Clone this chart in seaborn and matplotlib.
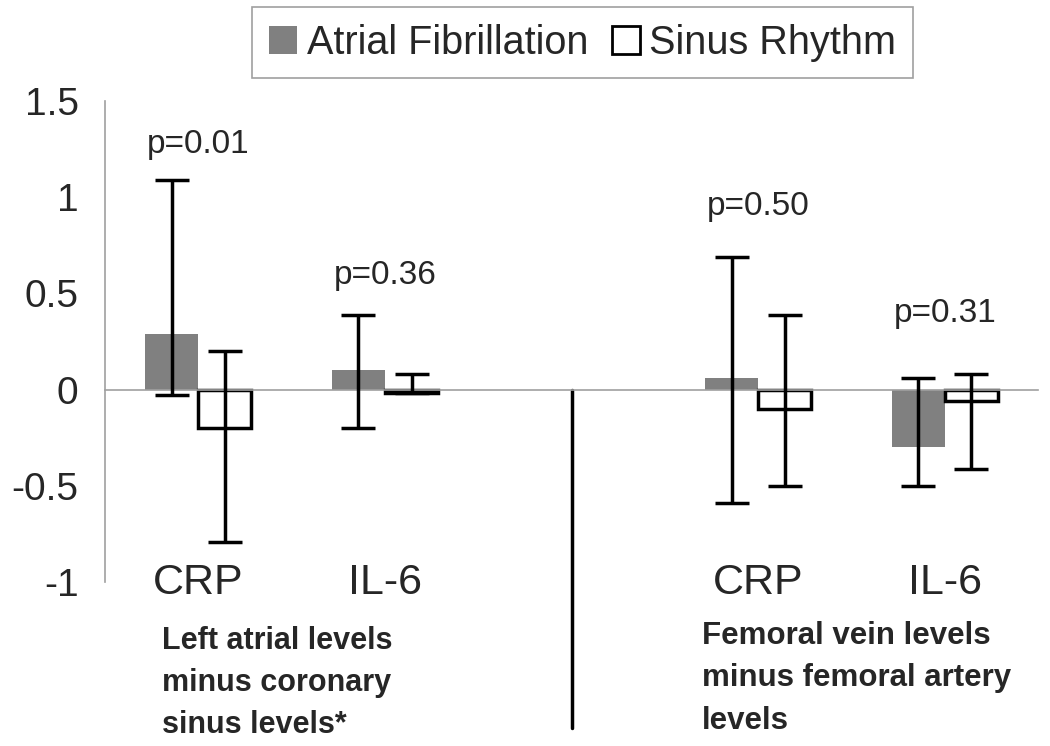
import matplotlib
matplotlib.use('Agg')
import matplotlib.pyplot as plt
from matplotlib.patches import Patch
import pandas as pd
import seaborn as sns

# data: medians with lower / upper bounds
categories = ["LA CRP", "LA IL-6", "gap", "FV CRP", "FV IL-6"]
cat_labels = ["CRP", "IL-6", "", "CRP", "IL-6"]
data_cats = ["LA CRP", "LA IL-6", "FV CRP", "FV IL-6"]
af_median = [0.29, 0.10, 0.06, -0.30]
af_low = [-0.03, -0.20, -0.59, -0.50]
af_high = [1.09, 0.39, 0.69, 0.06]
sr_median = [-0.20, -0.015, -0.10, -0.06]
sr_low = [-0.79, -0.02, -0.50, -0.41]
sr_high = [0.20, 0.08, 0.39, 0.08]
p_values = ["p=0.01", "p=0.36", "p=0.50", "p=0.31"]
p_label_y = [1.23, 0.55, 0.905, 0.352]   # baselines
series = ["Atrial Fibrillation", "Sinus Rhythm"]
left_note = ["Left atrial levels", "minus coronary", "sinus levels*"]
right_note = ["Femoral vein levels", "minus femoral artery", "levels"]

sns.set_style('white')
plt.rcParams['font.family'] = ['Liberation Sans', 'DejaVu Sans']

df = pd.DataFrame({
    'category': data_cats * 2,
    'rhythm': [series[0]] * 4 + [series[1]] * 4,
    'value': af_median + sr_median,
    'low': af_low + sr_low,
    'high': af_high + sr_high,
})

fig = plt.figure(figsize=(10.5, 7.46), dpi=100)
ax = fig.add_axes([0.1, 0.2198, 0.8886, 0.6448])

sns.barplot(data=df, x='category', y='value', hue='rhythm', order=categories,
            hue_order=series, palette={series[0]: '#808080', series[1]: 'white'},
            width=0.57, saturation=1, errorbar=None, legend=False, ax=ax)

# style bars + asymmetric error bars
bar_containers = list(ax.containers)
for k, cont in enumerate(bar_containers):
    sub = df[df['rhythm'] == series[k]].set_index('category')
    for bar in cont:
        xc = bar.get_x() + bar.get_width() / 2
        cat = categories[int(round(xc))]
        if k == 0:
            bar.set_edgecolor('none')
            bar.set_linewidth(0)
        else:
            bar.set_edgecolor('black')
            bar.set_linewidth(2.5)
        row = sub.loc[cat]
        ax.errorbar(xc, row['value'],
                    yerr=[[row['value'] - row['low']], [row['high'] - row['value']]],
                    fmt='none', ecolor='black', elinewidth=2.5, capsize=12, capthick=2.5,
                    zorder=5)

ax.set_xlim(-0.5, 4.5)
ax.set_ylim(-1, 1.5)
ax.set_yticks([-1, -0.5, 0, 0.5, 1, 1.5])
ax.set_yticklabels(['-1', '-0.5', '0', '0.5', '1', '1.5'])
ax.set_xticks([-0.5, 0.5, 1.5, 2.5, 3.5, 4.5])
ax.set_xticklabels([])
ax.set_xlabel('')
ax.set_ylabel('')

for s in ['top', 'right']:
    ax.spines[s].set_visible(False)
ax.spines['bottom'].set_position(('data', 0))
for s in ['left', 'bottom']:
    ax.spines[s].set_color('#a0a0a0')
    ax.spines[s].set_linewidth(1.2)
ax.tick_params(axis='y', direction='out', length=7, width=1.2, color='#a0a0a0',
               labelsize=28, pad=12)
ax.tick_params(axis='x', direction='out', length=9, width=1.2, color='#a0a0a0')

# category labels, same baseline as the -1 tick label
for i, lab in enumerate(cat_labels):
    if lab:
        ax.text(i, -1.063, lab, ha='center', va='baseline', fontsize=31, clip_on=False)

# p-values above each pair
pos = [categories.index(c) for c in data_cats]
for i, txt, yy in zip(pos, p_values, p_label_y):
    ax.text(i, yy, txt, ha='center', va='baseline', fontsize=24)

# divider between the two panels
ax.plot([2, 2], [0, -1.76], color='black', lw=2.5, clip_on=False)

# group notes, one line at a time (baselines in pixels from the top)
for line, base in zip(left_note, [649, 691, 733]):
    fig.text(162 / 1050, 1 - base / 746, line, ha='left', va='baseline',
             fontsize=22, fontweight='bold')
for line, base in zip(right_note, [644, 686, 729]):
    fig.text(702 / 1050, 1 - base / 746, line, ha='left', va='baseline',
             fontsize=22.5, fontweight='bold')

handles = [Patch(facecolor='#808080', edgecolor='none'),
           Patch(facecolor='white', edgecolor='black', linewidth=2)]
leg = fig.legend(handles, series, loc='center', bbox_to_anchor=(0.555, 0.943), ncol=2,
                 fontsize=28.5, frameon=True, fancybox=False, framealpha=1,
                 handlelength=0.7, handleheight=0.7, handletextpad=0.25,
                 columnspacing=0.6, borderpad=0.42)
leg.get_frame().set_edgecolor('#a0a0a0')
leg.get_frame().set_linewidth(1.2)

fig.savefig('out.png', dpi=100)
